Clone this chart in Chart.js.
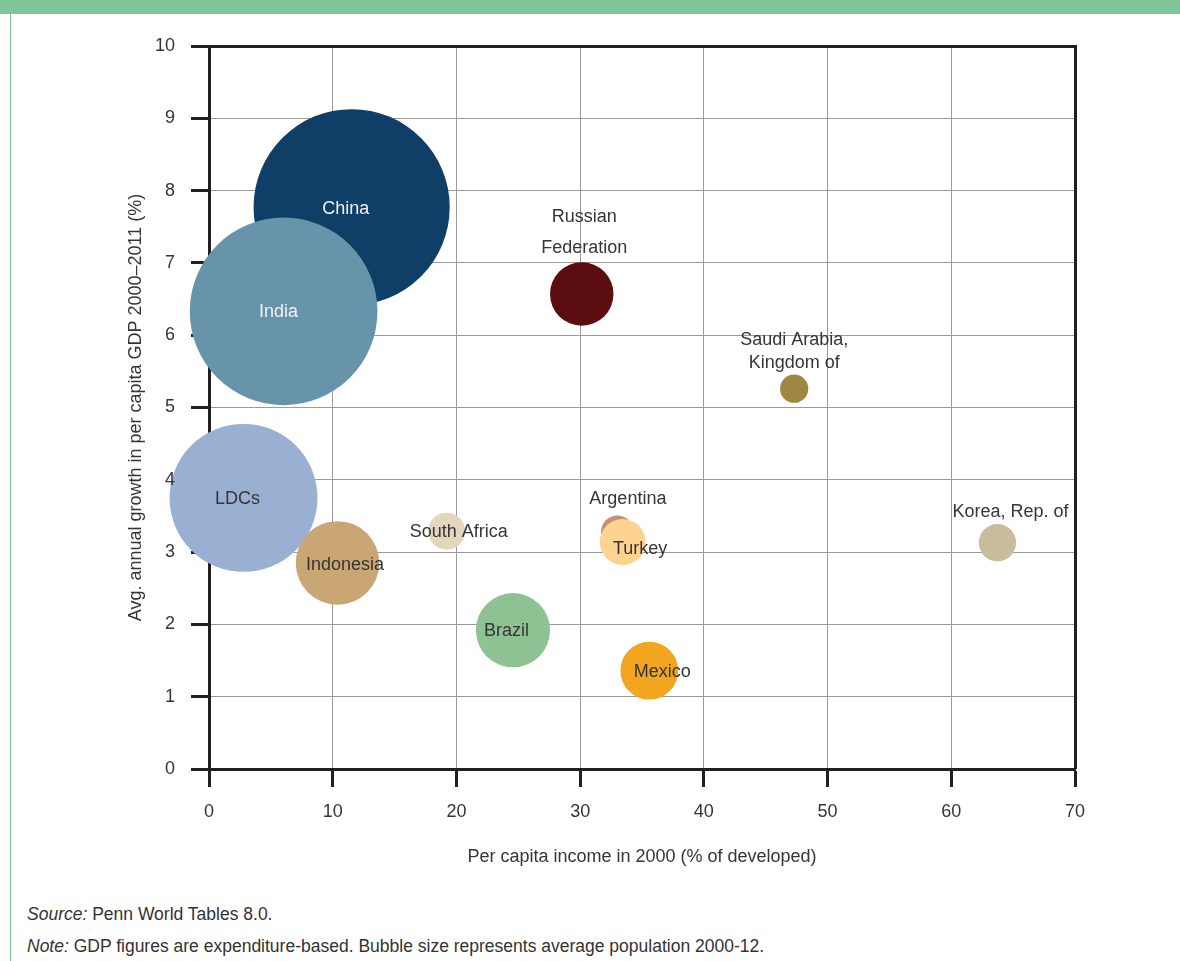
<!DOCTYPE html>
<html>
<head>
<meta charset="utf-8">
<title>Growth vs income</title>
<script src="https://cdn.jsdelivr.net/npm/chart.js@4.4.0/dist/chart.umd.min.js"></script>
<style>
  html, body { margin: 0; padding: 0; background: #fff; }
  body { width: 1180px; height: 961px; position: relative; overflow: hidden; font-family: "Liberation Sans", Arial, sans-serif; }
  .band { position: absolute; left: 0; top: 0; width: 1180px; height: 14px; background: #80c49a; }
  .edge { position: absolute; left: 10px; top: 14px; width: 1px; height: 947px; background: #80c49a; }
  .chart-box { position: absolute; left: 0; top: 0; width: 1180px; height: 880px; }
  .notes { position: absolute; left: 27px; top: 898px; font-size: 17.5px; color: #333; }
  .notes p { margin: 0; line-height: 32px; white-space: nowrap; }
</style>
</head>
<body>
<div class="band"></div>
<div class="edge"></div>
<div class="chart-box"><canvas id="bubbleChart" width="1180" height="880"></canvas></div>
<div class="notes">
  <p><i>Source:</i> Penn World Tables 8.0.</p>
  <p><i>Note:</i> GDP figures are expenditure-based. Bubble size represents average population 2000-12.</p>
</div>
<script>
// per capita income 2000 (% of developed) vs growth 2000-2011, bubble = population (millions)
const countries = ['China', 'India', 'LDCs', 'Indonesia', 'South Africa', 'Brazil',
  'Russian\nFederation', 'Argentina', 'Turkey', 'Mexico', 'Saudi Arabia,\nKingdom of', 'Korea, Rep. of'];
const incomeShare = [11.53, 6.03, 2.79, 10.39, 19.21, 24.57, 30.13, 33.01, 33.44, 35.59, 47.30, 63.73];
const growthRate = [7.77, 6.33, 3.75, 2.85, 3.29, 1.92, 6.57, 3.28, 3.14, 1.36, 5.26, 3.13];
const population = [1300, 1190, 740, 236, 46, 186, 136, 36, 71, 113, 27, 47];
const xTicks = [0, 10, 20, 30, 40, 50, 60, 70];
const yTicks = [0, 1, 2, 3, 4, 5, 6, 7, 8, 9, 10];

const bubbleColors = ['#0f3f66', '#6794ab', '#9ab0d2', '#caa675', '#e4d5bf', '#8ec293',
  '#5c0d10', '#c39079', '#fcd38f', '#f2a61f', '#9f8641', '#c9bc9c'];

// where each name sits relative to its bubble centre
const labelPlace = [
  { dx: -6, dy: 1.5, color: '#eef2f6' },
  { dx: -5, dy: 1, color: '#eef2f6' },
  { dx: -6, dy: 1 },
  { dx: 7.5, dy: 2 },
  { dx: 12, dy: 0.5 },
  { dx: -6.5, dy: 1 },
  { dx: 2.5, dy: -77, gap: 30.6 },
  { dx: 10.5, dy: -33 },
  { dx: 17.5, dy: 7.5 },
  { dx: 13, dy: 1.3 },
  { dx: 0, dy: -48.7, gap: 23.3 },
  { dx: 13, dy: -30.4 }
];

const AXIS_DARK = '#231f20';
const GRID_GREY = '#9a9a9a';
const TEXT = '#353535';
const FONT = '"Liberation Sans", Arial, sans-serif';

const frame = {
  id: 'frame',
  beforeDatasetsDraw(chart) {
    const { ctx, chartArea } = chart;
    const top = Math.round(chartArea.top) + 0.5;
    const right = Math.round(chartArea.right) + 0.5;
    ctx.save();
    ctx.strokeStyle = AXIS_DARK;
    ctx.lineWidth = 3;
    ctx.beginPath();
    ctx.moveTo(chartArea.left, top);
    ctx.lineTo(right, top);
    ctx.lineTo(right, chartArea.bottom);
    ctx.stroke();
    ctx.restore();
  }
};

const bubbleNames = {
  id: 'bubbleNames',
  afterDatasetsDraw(chart) {
    const { ctx } = chart;
    const meta = chart.getDatasetMeta(0);
    ctx.save();
    ctx.font = '18px ' + FONT;
    ctx.textAlign = 'center';
    ctx.textBaseline = 'middle';
    meta.data.forEach((pt, i) => {
      const p = labelPlace[i];
      ctx.fillStyle = p.color || TEXT;
      countries[i].split('\n').forEach((line, k) => {
        ctx.fillText(line, pt.x + p.dx, pt.y + p.dy + k * (p.gap || 0));
      });
    });
    ctx.restore();
  }
};

const ctx = document.getElementById('bubbleChart').getContext('2d');

const bubbleChart = new Chart(ctx, {
  type: 'bubble',
  data: {
    datasets: [{
      data: countries.map((c, i) => ({
        x: incomeShare[i],
        y: growthRate[i],
        r: 2.72 * Math.sqrt(population[i])
      })),
      backgroundColor: bubbleColors,
      hoverBackgroundColor: bubbleColors,
      borderWidth: 0,
      hoverBorderWidth: 0,
      clip: false
    }]
  },
  options: {
    responsive: false,
    animation: false,
    events: [],
    layout: { autoPadding: false, padding: { left: 100, top: 46, right: 105, bottom: 0 } },
    scales: {
      x: {
        type: 'linear',
        min: 0,
        max: 70,
        afterBuildTicks: s => { s.ticks = xTicks.map(v => ({ value: v })); },
        afterFit: s => { s.height = 111; s.paddingLeft = 0; s.paddingRight = 0; },
        grid: { color: GRID_GREY, lineWidth: 1, tickColor: AXIS_DARK, tickWidth: 3, tickLength: 18 },
        border: { color: AXIS_DARK, width: 3 },
        ticks: { color: TEXT, padding: 14, font: { family: FONT, size: 18 }, maxRotation: 0, z: 1 },
        title: {
          display: true,
          text: 'Per capita income in 2000 (% of developed)',
          color: TEXT,
          font: { family: FONT, size: 18 },
          padding: { top: 0, bottom: 12 }
        }
      },
      y: {
        type: 'linear',
        min: 0,
        max: 10,
        afterBuildTicks: s => { s.ticks = yTicks.map(v => ({ value: v })); },
        afterFit: s => { s.width = 109; s.paddingTop = 0; s.paddingBottom = 0; },
        grid: { color: GRID_GREY, lineWidth: 1, tickColor: AXIS_DARK, tickWidth: 3, tickLength: 18 },
        border: { color: AXIS_DARK, width: 3 },
        ticks: { color: TEXT, padding: 16, font: { family: FONT, size: 18 }, z: 1 },
        title: {
          display: true,
          text: 'Avg. annual growth in per capita GDP 2000\u20132011 (%)',
          color: TEXT,
          font: { family: FONT, size: 18 },
          padding: { top: 25, bottom: 0 }
        }
      }
    },
    plugins: {
      legend: { display: false },
      tooltip: { enabled: false }
    }
  },
  plugins: [frame, bubbleNames]
});
</script>
</body>
</html>
